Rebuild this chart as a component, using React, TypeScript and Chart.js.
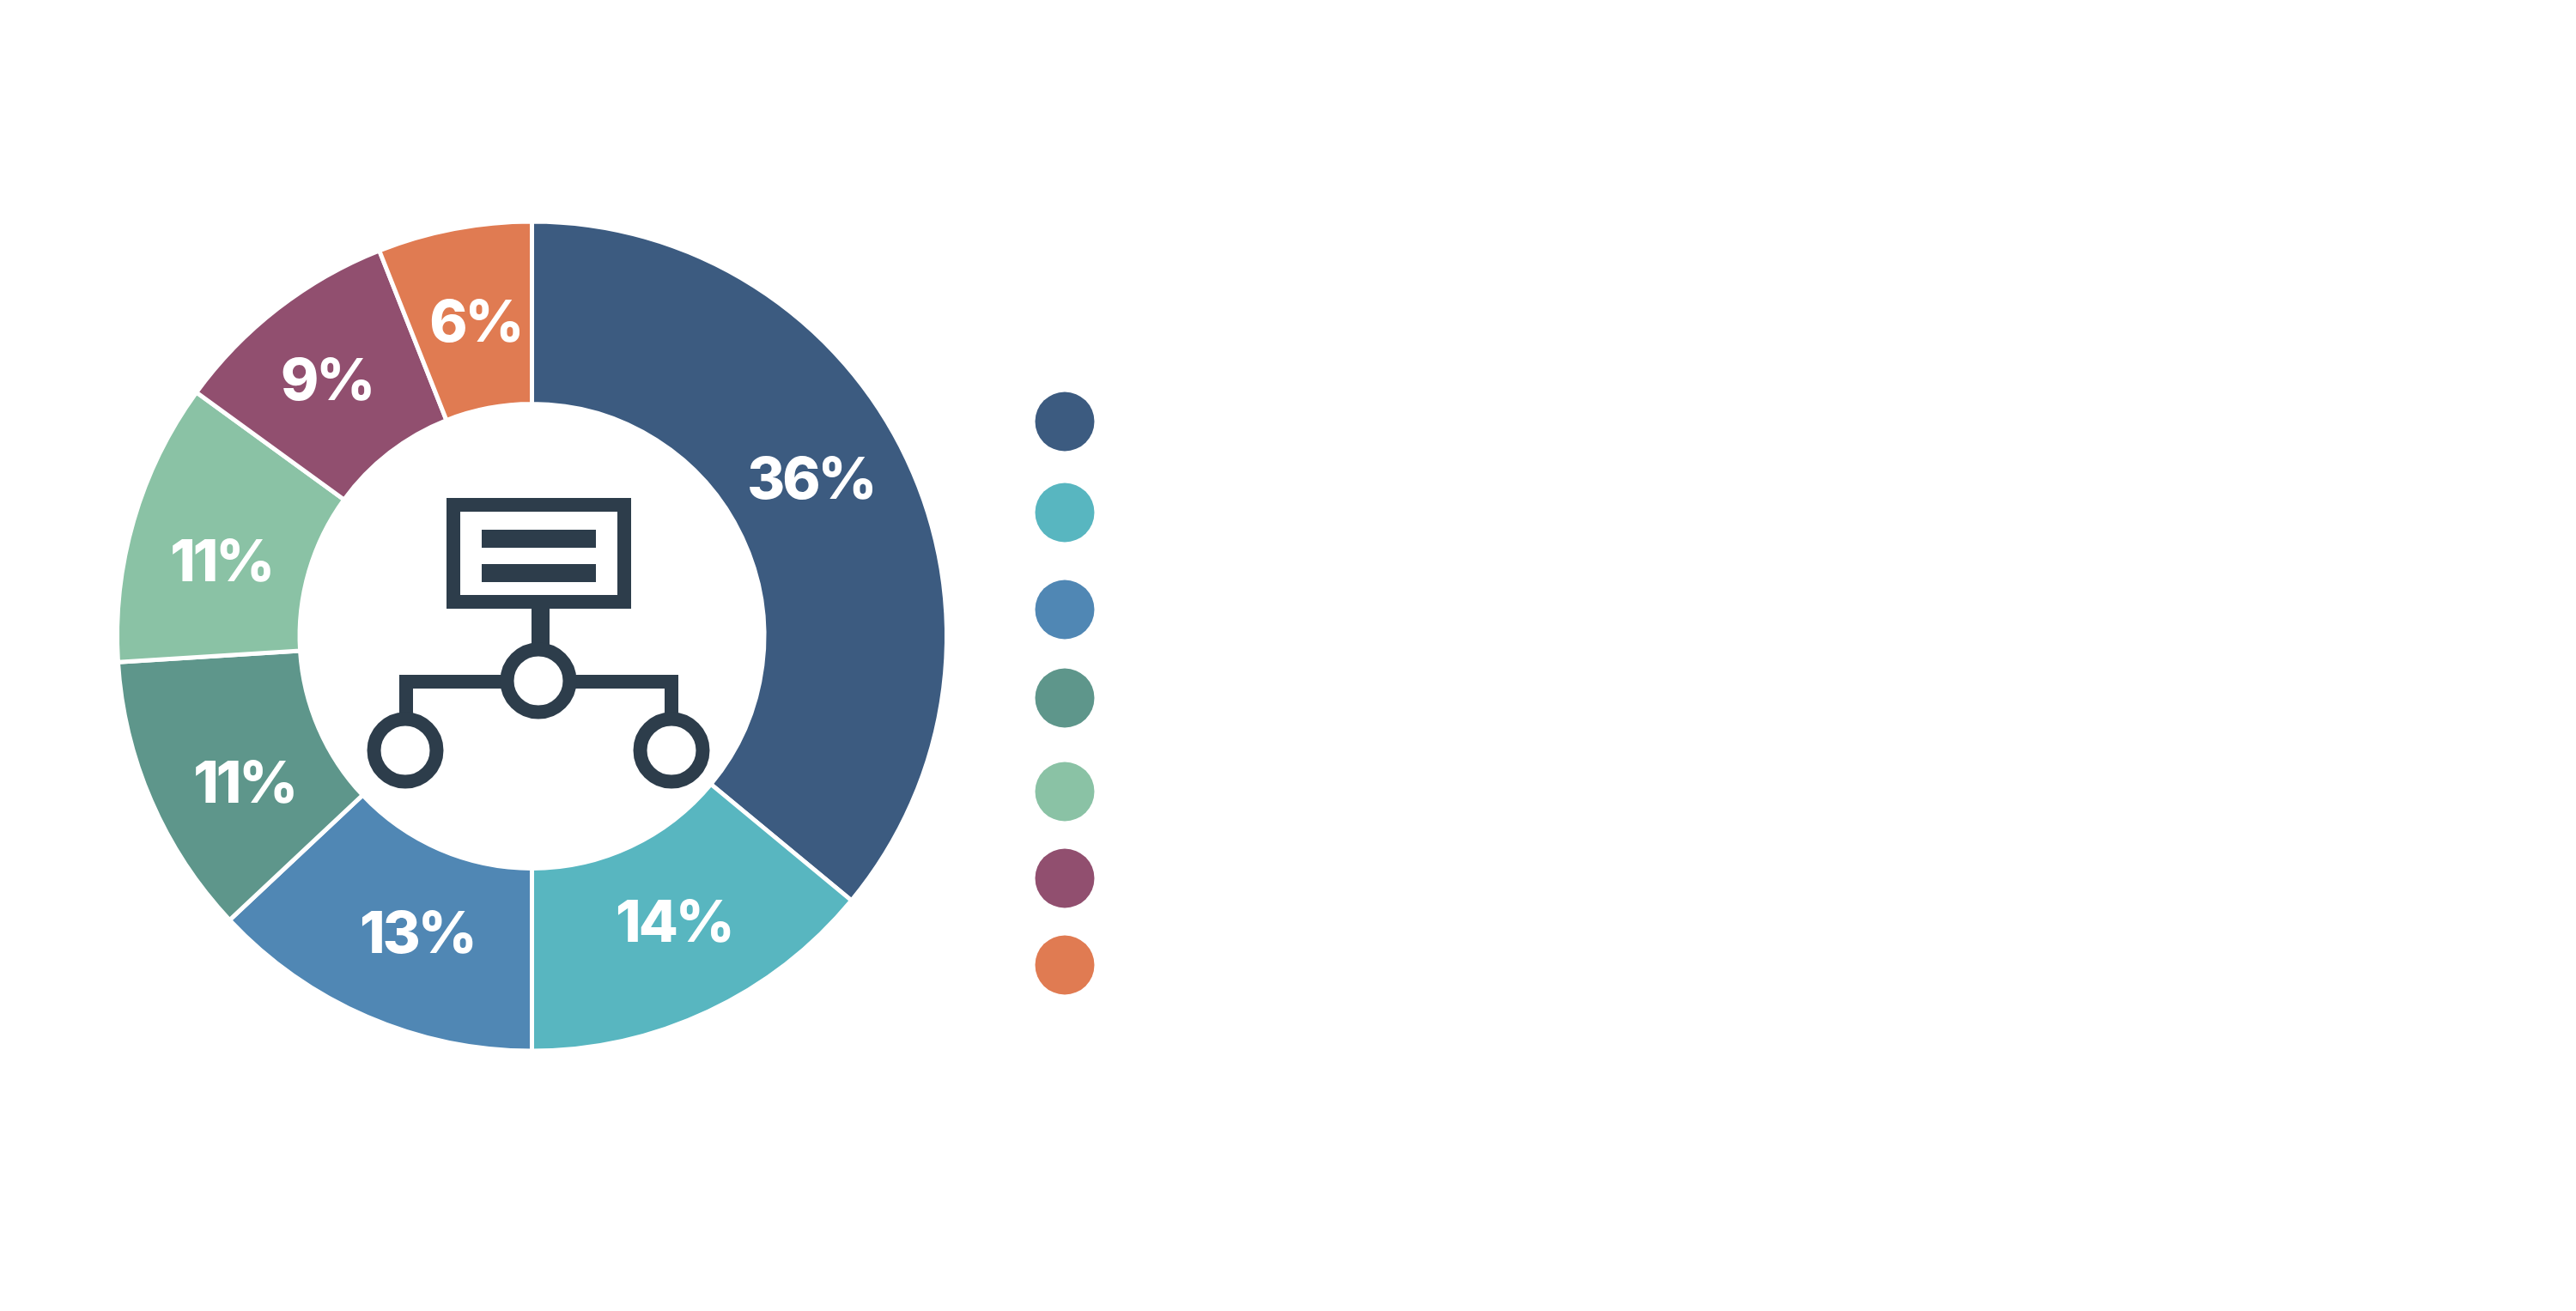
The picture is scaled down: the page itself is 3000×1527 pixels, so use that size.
import React, { useEffect, useRef } from "react";
import Chart from "chart.js/auto";

const categories = ["Segment 1", "Segment 2", "Segment 3", "Segment 4", "Segment 5", "Segment 6", "Segment 7"];
const shares = [36, 14, 13, 11, 11, 9, 6];
const sliceColors = ["#3C5B80", "#58B6C0", "#5087B4", "#5E968B", "#8AC2A5", "#914F6F", "#E07B52"];
const labelOffsets = [[-16, -20], [5, -5], [16, 3], [11, 24], [0, 21], [-8, 3], [5, 7]];
const legendY = [491, 597, 710, 813, 922, 1023, 1124];
const ICON = "#2D3D4B";

const sliceLabels = {
  id: "sliceLabels",
  afterDatasetsDraw(chart: any) {
    const { ctx } = chart;
    const arcs = chart.getDatasetMeta(0).data;
    ctx.save();
    ctx.fillStyle = "#fff";
    ctx.font = "800 67px Inter";
    ctx.letterSpacing = "-3px";
    ctx.textAlign = "center";
    ctx.textBaseline = "middle";
    arcs.forEach((arc: any, i: number) => {
      const p = arc.tooltipPosition();
      ctx.fillText(`${shares[i]}%`, p.x + labelOffsets[i][0], p.y + labelOffsets[i][1]);
    });
    ctx.restore();
  },
};

const legendDots = {
  id: "legendDots",
  afterDraw(chart: any) {
    const { ctx } = chart;
    ctx.save();
    legendY.forEach((y, i) => {
      ctx.fillStyle = sliceColors[i];
      ctx.beginPath();
      ctx.arc(1240, y, 34.5, 0, Math.PI * 2);
      ctx.fill();
    });
    ctx.restore();
  },
};

const hubIcon = {
  id: "hubIcon",
  afterDraw(chart: any) {
    const { ctx } = chart;
    ctx.save();
    ctx.fillStyle = ICON;
    ctx.strokeStyle = ICON;
    ctx.lineWidth = 16;
    ctx.strokeRect(528, 588, 199, 113);
    ctx.fillRect(561, 617, 133, 21);
    ctx.fillRect(561, 657, 133, 21);
    ctx.fillRect(619, 709, 21, 45);
    ctx.beginPath();
    ctx.moveTo(473, 840);
    ctx.lineTo(473, 794);
    ctx.lineTo(782, 794);
    ctx.lineTo(782, 840);
    ctx.stroke();
    [[627, 793], [472, 874], [782, 874]].forEach(([x, y]) => {
      ctx.beginPath();
      ctx.arc(x, y, 36.5, 0, Math.PI * 2);
      ctx.fillStyle = "#fff";
      ctx.fill();
      ctx.stroke();
    });
    ctx.restore();
  },
};

export default function App() {
  const ref = useRef<HTMLCanvasElement>(null);
  useEffect(() => {
    const chart = new Chart(ref.current!, {
      type: "doughnut",
      data: {
        labels: categories,
        datasets: [{ data: shares, backgroundColor: sliceColors, borderColor: "#fff", borderWidth: 5 }],
      },
      options: {
        animation: false,
        responsive: false,
        cutout: "56%",
        layout: { padding: { left: 134, right: 1895, top: 255, bottom: 300 } },
        plugins: { legend: { display: false }, tooltip: { enabled: false } },
      },
      plugins: [sliceLabels, legendDots, hubIcon],
    });
    return () => chart.destroy();
  }, []);
  return (
    <canvas
      ref={ref}
      width={3000}
      height={1527}
      style={{ position: "fixed", left: 0, top: 0, width: 3000, height: 1527, background: "#fff" }}
    />
  );
}
